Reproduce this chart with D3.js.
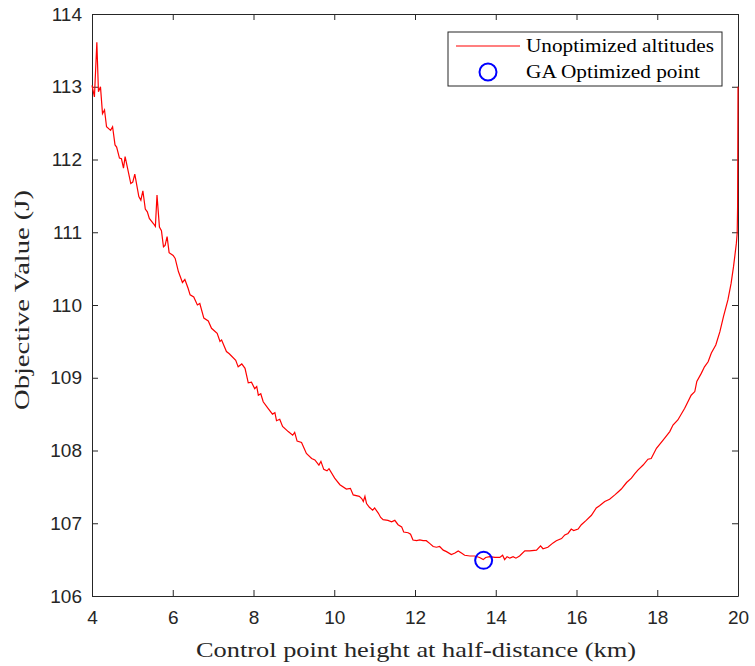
<!DOCTYPE html>
<html>
<head>
  <title>Objective value vs control point height</title>
  <script src="https://d3js.org/d3.v7.min.js"></script>
  <style>
    body { margin: 0; background: #fff; }
    .tick text { font-family: "Liberation Sans", Arial, sans-serif; font-size: 19px; fill: #262626; }
    .tick line, .domain { stroke: #262626; }
  </style>
</head>
<body>
<script type="text/javascript">
  // control point height (km)
  var heights = [4.00, 4.06, 4.12, 4.16, 4.21, 4.26, 4.31, 4.36, 4.46, 4.51, 4.57, 4.61, 4.68, 4.73, 4.78, 4.82, 4.90, 4.96, 5.01, 5.06,
    5.16, 5.21, 5.26, 5.32, 5.37, 5.42, 5.52, 5.57, 5.61, 5.67, 5.72, 5.77, 5.81, 5.86, 5.91, 6.01, 6.06, 6.14, 6.24, 6.30,
    6.38, 6.43, 6.52, 6.61, 6.67, 6.77, 6.88, 6.96, 7.10, 7.17, 7.21, 7.33, 7.40, 7.56, 7.62, 7.71, 7.79, 7.87, 7.95, 8.03,
    8.08, 8.12, 8.18, 8.24, 8.36, 8.47, 8.53, 8.57, 8.65, 8.72, 8.86, 8.97, 9.02, 9.08, 9.19, 9.31, 9.44, 9.52, 9.62, 9.67,
    9.74, 9.82, 9.87, 10.01, 10.14, 10.30, 10.40, 10.47, 10.62, 10.68, 10.72, 10.76, 10.80, 10.87, 10.95, 11.00, 11.09, 11.15, 11.21, 11.33,
    11.42, 11.50, 11.58, 11.67, 11.72, 11.83, 11.89, 11.95, 12.04, 12.12, 12.20, 12.28, 12.37, 12.45, 12.53, 12.61, 12.70, 12.78, 12.90, 12.99,
    13.07, 13.15, 13.23, 13.36, 13.48, 13.60, 13.69, 13.75, 13.85, 13.98, 14.10, 14.17, 14.22, 14.28, 14.35, 14.43, 14.50, 14.59, 14.72, 14.84,
    15.01, 15.11, 15.17, 15.29, 15.42, 15.50, 15.63, 15.71, 15.79, 15.87, 15.93, 16.04, 16.12, 16.24, 16.37, 16.49, 16.57, 16.70, 16.82, 16.95,
    17.03, 17.11, 17.24, 17.36, 17.44, 17.52, 17.65, 17.77, 17.85, 17.98, 18.14, 18.31, 18.39, 18.51, 18.68, 18.84, 18.93, 18.98, 19.09, 19.17,
    19.26, 19.34, 19.45, 19.55, 19.64, 19.75, 19.83, 19.89, 19.96, 19.98, 19.99, 20.00];

  // objective value (J) for each height
  var objective = [113.02, 112.86, 113.61, 112.93, 113.00, 112.63, 112.68, 112.45, 112.40, 112.45, 112.20, 112.17, 112.02, 112.01, 111.88, 112.04, 111.83, 111.67, 111.69, 111.80,
    111.49, 111.44, 111.57, 111.32, 111.28, 111.19, 111.12, 111.08, 111.51, 111.07, 111.02, 110.80, 110.82, 110.94, 110.72, 110.68, 110.64, 110.46, 110.31, 110.35,
    110.23, 110.14, 110.11, 110.00, 110.02, 109.82, 109.78, 109.68, 109.61, 109.50, 109.52, 109.36, 109.33, 109.24, 109.15, 109.19, 109.13, 108.93, 108.94, 108.85,
    108.88, 108.76, 108.78, 108.67, 108.58, 108.50, 108.52, 108.41, 108.43, 108.33, 108.26, 108.21, 108.25, 108.13, 108.11, 107.96, 107.89, 107.87, 107.80, 107.85,
    107.74, 107.72, 107.75, 107.62, 107.53, 107.47, 107.48, 107.39, 107.37, 107.34, 107.30, 107.37, 107.27, 107.22, 107.18, 107.21, 107.14, 107.08, 107.05, 107.04,
    107.02, 107.04, 106.98, 106.95, 106.88, 106.87, 106.85, 106.77, 106.76, 106.77, 106.76, 106.76, 106.72, 106.68, 106.67, 106.68, 106.63, 106.61, 106.57, 106.59,
    106.62, 106.59, 106.56, 106.55, 106.55, 106.53, 106.50, 106.53, 106.54, 106.53, 106.53, 106.56, 106.50, 106.54, 106.52, 106.54, 106.52, 106.55, 106.62, 106.62,
    106.63, 106.69, 106.65, 106.67, 106.73, 106.76, 106.79, 106.84, 106.86, 106.92, 106.90, 106.92, 106.98, 107.04, 107.11, 107.21, 107.24, 107.30, 107.33, 107.39,
    107.43, 107.47, 107.56, 107.62, 107.68, 107.73, 107.80, 107.88, 107.89, 108.03, 108.14, 108.26, 108.35, 108.42, 108.58, 108.76, 108.81, 108.95, 109.06, 109.15,
    109.22, 109.34, 109.45, 109.63, 109.84, 110.07, 110.30, 110.53, 110.85, 110.99, 111.35, 113.00];

  // GA optimum
  var gaHeight = [13.70];
  var gaValue = [106.49];

  var xTicks = [4, 6, 8, 10, 12, 14, 16, 18, 20];
  var yTicks = [106, 107, 108, 109, 110, 111, 112, 113, 114];
  var legendLabels = ["Unoptimized altitudes", "GA Optimized point"];

  var w = 755;
  var h = 666;
  var margin = {top: 14, right: 17, bottom: 70, left: 92};
  var iw = w - margin.left - margin.right;
  var ih = h - margin.top - margin.bottom;
  var serif = "'Liberation Serif', 'Times New Roman', serif";

  var svg = d3.select("body").append("svg")
    .attr("width", w)
    .attr("height", h);

  var g = svg.append("g")
    .attr("transform", "translate(" + margin.left + "," + margin.top + ")");

  var x = d3.scaleLinear().domain([4, 20]).range([0, iw]);
  var y = d3.scaleLinear().domain([106, 114]).range([ih, 0]);

  // axes, ticks pointing inward like matlab's box
  g.append("g")
    .attr("transform", "translate(0," + ih + ")")
    .call(d3.axisBottom(x).tickValues(xTicks).tickSize(-6).tickPadding(15).tickSizeOuter(0));
  g.append("g")
    .call(d3.axisLeft(y).tickValues(yTicks).tickSize(-6).tickPadding(10).tickSizeOuter(0));
  g.append("g")
    .call(d3.axisTop(x).tickValues(xTicks).tickSize(-6).tickFormat("").tickSizeOuter(0));
  g.append("g")
    .attr("transform", "translate(" + iw + ",0)")
    .call(d3.axisRight(y).tickValues(yTicks).tickSize(-6).tickFormat("").tickSizeOuter(0));

  var pts = heights.map(function(d, i){ return [d, objective[i]]; });

  var line = d3.line()
    .x(function(d){ return x(d[0]); })
    .y(function(d){ return y(d[1]); });

  g.append("path")
    .datum(pts)
    .attr("d", line)
    .attr("fill", "none")
    .attr("stroke", "#ff0000")
    .attr("stroke-width", 1.2);

  g.selectAll("circle.ga")
    .data(gaHeight)
    .enter()
    .append("circle")
    .attr("class", "ga")
    .attr("cx", function(d){ return x(d); })
    .attr("cy", function(d, i){ return y(gaValue[i]); })
    .attr("r", 8.5)
    .attr("fill", "none")
    .attr("stroke", "#0000ff")
    .attr("stroke-width", 2);

  // axis labels (latex font is wider than times, so stretch a bit)
  svg.append("text")
    .attr("x", 196)
    .attr("y", 657)
    .attr("textLength", 440)
    .attr("lengthAdjust", "spacingAndGlyphs")
    .style("font-family", serif)
    .style("font-size", "22px")
    .attr("fill", "#262626")
    .text("Control point height at half-distance (km)");

  svg.append("text")
    .attr("transform", "translate(29,410) rotate(-90)")
    .attr("textLength", 220)
    .attr("lengthAdjust", "spacingAndGlyphs")
    .style("font-family", serif)
    .style("font-size", "22px")
    .attr("fill", "#262626")
    .text("Objective Value (J)");

  // legend
  var legendWidths = [188, 174];
  var lg = svg.append("g").attr("transform", "translate(448,32)");
  lg.append("rect")
    .attr("width", 274)
    .attr("height", 54)
    .attr("fill", "#fff")
    .attr("stroke", "#262626")
    .attr("stroke-width", 1);
  lg.append("line")
    .attr("x1", 8).attr("x2", 72)
    .attr("y1", 14).attr("y2", 14)
    .attr("stroke", "#ff0000")
    .attr("stroke-width", 1.2);
  lg.append("circle")
    .attr("cx", 40).attr("cy", 40).attr("r", 8.5)
    .attr("fill", "none")
    .attr("stroke", "#0000ff")
    .attr("stroke-width", 2);
  lg.selectAll("text")
    .data(legendLabels)
    .enter()
    .append("text")
    .attr("x", 78)
    .attr("y", function(d, i){ return 20 + i * 26; })
    .attr("textLength", function(d, i){ return legendWidths[i]; })
    .attr("lengthAdjust", "spacingAndGlyphs")
    .style("font-family", serif)
    .style("font-size", "19px")
    .attr("fill", "#000")
    .text(function(d){ return d; });
</script>
</body>
</html>
